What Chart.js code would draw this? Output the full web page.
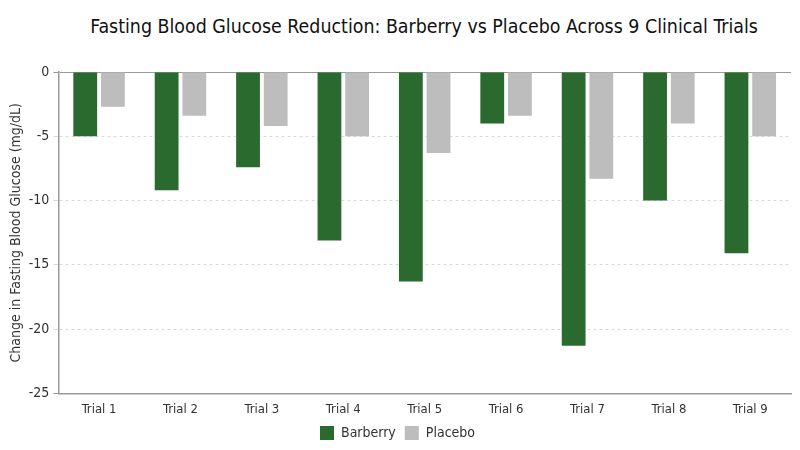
<!DOCTYPE html>
<html>
<head>
<meta charset="utf-8">
<script src="https://cdn.jsdelivr.net/npm/chart.js@4"></script>
<style>
  html, body { margin:0; padding:0; background:#fff; }
  #title {
    height: 50px; box-sizing: border-box; padding: 15px 0 0 48px;
    text-align: center; font-family: 'DejaVu Sans Condensed', sans-serif;
    font-size: 19.4px; color: #111; line-height: 24px;
  }
  #wrap { width:800px; height:400px; }
</style>
</head>
<body>
<div id="title">Fasting Blood Glucose Reduction: Barberry vs Placebo Across 9 Clinical Trials</div>
<div id="wrap"><canvas id="glucoseChart"></canvas></div>
<script>
// data
const trials   = ["Trial 1","Trial 2","Trial 3","Trial 4","Trial 5","Trial 6","Trial 7","Trial 8","Trial 9"];
const barberry = [-5.0, -9.2, -7.4, -13.1, -16.3, -4.0, -21.3, -10.0, -14.1];
const placebo  = [-2.7, -3.4, -4.2, -5.0, -6.3, -3.4, -8.3, -4.0, -5.0];
const yTicks   = [0, -5, -10, -15, -20, -25];

const FONT = "'DejaVu Sans Condensed', 'Roboto', sans-serif";

new Chart(document.getElementById("glucoseChart"), {
  type: 'bar',
  data: {
    labels: trials,
    datasets: [
      { label: "Barberry", data: barberry, backgroundColor: '#2b6a2e', borderWidth: 0 },
      { label: "Placebo",  data: placebo,  backgroundColor: '#bdbdbd', borderWidth: 0 }
    ]
  },
  options: {
    responsive: true,
    maintainAspectRatio: false,
    animation: false,
    categoryPercentage: 0.68,
    barPercentage: 0.86,
    layout: { padding: { top: 22, right: 9, left: 4, bottom: 0 } },
    plugins: {
      title: { display: false },
      legend: {
        position: 'bottom',
        labels: {
          color: '#333',
          font: { family: FONT, size: 14 },
          boxWidth: 14,
          boxHeight: 14,
          padding: 9
        }
      },
      tooltip: { enabled: false }
    },
    scales: {
      x: {
        grid: { display: false },
        border: { color: '#999', width: 1.5 },
        ticks: { color: '#333', font: { family: FONT, size: 13 }, padding: 0 }
      },
      y: {
        min: -25,
        max: 0,
        afterBuildTicks: axis => { axis.ticks = yTicks.map(v => ({ value: v })); },
        border: {
          color: '#999',
          width: 1.5,
          dash: ctx => (ctx.tick && (ctx.tick.value === 0 || ctx.tick.value === -25)) ? [] : [3, 3]
        },
        grid: {
          color: ctx => (ctx.tick.value === 0 || ctx.tick.value === -25) ? '#999' : '#d8d8d8',
          lineWidth: 1,
          tickLength: 5
        },
        ticks: { color: '#333', font: { family: FONT, size: 14 }, padding: 4 },
        title: {
          display: true,
          text: "Change in Fasting Blood Glucose (mg/dL)",
          color: '#333',
          font: { family: FONT, size: 14 },
          padding: { bottom: 0 }
        }
      }
    }
  }
});
</script>
</body>
</html>
